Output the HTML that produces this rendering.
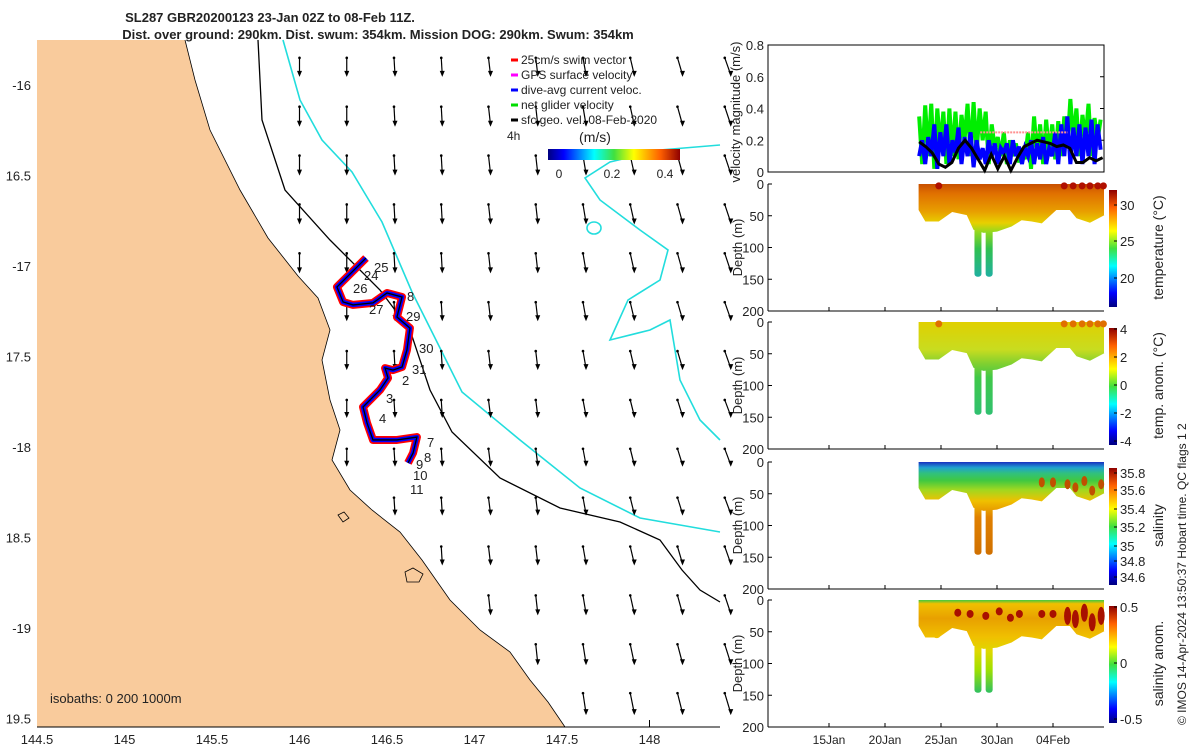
<!DOCTYPE html>
<html><head><meta charset="utf-8"><style>
body{margin:0;background:#fff}
svg text{font-family:"Liberation Sans","DejaVu Sans",sans-serif;fill:#222}
</style></head><body>
<svg id="s" width="1200" height="750" xmlns="http://www.w3.org/2000/svg">
<defs id="defs">
<linearGradient id="jet" x1="0" y1="1" x2="0" y2="0">
<stop offset="0" stop-color="#00007f"/><stop offset="0.12" stop-color="#0000ff"/><stop offset="0.35" stop-color="#00ffff"/><stop offset="0.5" stop-color="#40e040"/><stop offset="0.65" stop-color="#ffff00"/><stop offset="0.85" stop-color="#ff6000"/><stop offset="1" stop-color="#8f0000"/></linearGradient>
<linearGradient id="jeth" x1="0" y1="0" x2="1" y2="0"><stop offset="0" stop-color="#00007f"/><stop offset="0.12" stop-color="#0000ff"/><stop offset="0.35" stop-color="#00ffff"/><stop offset="0.5" stop-color="#40e040"/><stop offset="0.65" stop-color="#ffff00"/><stop offset="0.85" stop-color="#ff6000"/><stop offset="1" stop-color="#8f0000"/></linearGradient>
</defs>
<g id="map"></g>
<g id="right"></g>
<text x="1186" y="725" font-size="12" transform="rotate(-90 1186 725)">© IMOS 14-Apr-2024 13:50:37 Hobart time. QC flags 1  2</text>
</svg>
<script>
// ---- map data ----
const trackLon=[146.380,146.214,146.249,146.306,146.420,146.500,146.586,146.557,146.631,146.614,146.586,146.534,146.489,146.506,146.460,146.363,146.386,146.420,146.557,146.671,146.649,146.620];
const trackLat=[-16.956,-17.116,-17.199,-17.215,-17.204,-17.149,-17.171,-17.282,-17.343,-17.464,-17.558,-17.575,-17.564,-17.619,-17.685,-17.779,-17.867,-17.961,-17.961,-17.945,-18.033,-18.088];
const lonTicks=[144.5,145,145.5,146,146.5,147,147.5,148];
const latTicks=[-16,-16.5,-17,-17.5,-18,-18.5,-19,-19.5];
const latLabels=["-16","16.5","-17","17.5","-18","18.5","-19","19.5"];
const arrowRowV=[0.17,0.18,0.18,0.18,0.18,0.17,0.17,0.16,0.16,0.16,0.17,0.18,0.19,0.2,0.2];
const arrowColU=[0.0,0.0,0.01,0.01,0.02,0.02,0.03,0.04,0.05,0.06];
const arrowLon0=146.0, arrowLat0=-15.85, arrowStep=0.27;
// ---- time series data ----
const velDays0=23.05, velStep=0.27;
const greenVel=[0.35,0.05,0.42,0.1,0.43,0.02,0.4,0.15,0.38,0.05,0.4,0.1,0.38,0.08,0.36,0.2,0.43,0.1,0.44,0.12,0.4,0.2,0.38,0.05,0.3,0.15,0.22,0.1,0.25,0.05,0.2,0.1,0.18,0.06,0.15,0.08,0.25,0.02,0.35,0.1,0.3,0.05,0.33,0.1,0.3,0.08,0.32,0.1,0.35,0.15,0.46,0.2,0.4,0.1,0.36,0.2,0.43,0.1,0.34,0.2,0.33];
const blueVel=[0.1,0.2,0.05,0.22,0.1,0.3,0.02,0.25,0.1,0.3,0.05,0.2,0.12,0.28,0.05,0.22,0.1,0.25,0.03,0.2,0.08,0.15,0.05,0.2,0.1,0.18,0.05,0.15,0.12,0.18,0.05,0.2,0.1,0.16,0.05,0.15,0.1,0.2,0.05,0.18,0.08,0.22,0.05,0.15,0.1,0.25,0.05,0.3,0.1,0.35,0.05,0.28,0.1,0.3,0.05,0.28,0.1,0.33,0.05,0.3,0.14];
const blackVel=[0.19,0.16,0.12,0.05,0.03,0.06,0.15,0.2,0.15,0.08,0.01,0.11,0.02,0.10,0.01,0.09,0.16,0.18,0.2,0.19,0.18,0.16,0.17,0.15,0.06,0.06,0.09,0.07,0.09];
const blackDays0=23.05, blackStep=0.585;
const bottomDays=[23.0,23.6,24.8,26.0,27.3,27.9,28.8,30.0,31.3,32.2,33.1,34.0,35.3,36.5,37.1,38.3,39.6];
const bottomDepth=[41,59,59,44,49,72,77,75,67,57,59,62,41,41,54,61,49];
const spikeDays=[28.3,29.3];
const spikeDepth=[146,146];
const surfDotDays=[24.8,36.0,36.8,37.6,38.3,39.0,39.5];
const salBlobDays=[26.5,27.6,29.0,30.2,31.2,32.0,34.0,35.0,36.3,37.0,37.8,38.5,39.3];
const salBlobDepth=[20,22,25,18,28,22,22,22,25,30,20,35,25];
const timeTickDays=[15,20,25,30,35];
const timeTickLabels=["15Jan","20Jan","25Jan","30Jan","04Feb"];

const NS="http://www.w3.org/2000/svg";
function el(t,a,p){const e=document.createElementNS(NS,t);for(const k in a)e.setAttribute(k,a[k]);p.appendChild(e);return e;}
function txt(s,a,p){const e=el('text',a,p);e.textContent=s;return e;}
const map=document.getElementById('map'), R=document.getElementById('right'), defs=document.getElementById('defs');
const lx=l=>37+(l-144.5)*175, ly=l=>85+(-l-16)*181;

// land
const coast=[[185,40],[195,80],[210,130],[240,190],[268,238],[298,276],[318,298],[330,330],[322,360],[330,400],[340,430],[332,460],[350,490],[372,510],[400,532],[422,560],[450,600],[480,630],[510,652],[530,680],[548,702],[565,727]];
let lp="M37 40 "+coast.map(p=>"L"+p[0]+" "+p[1]).join(" ")+" L37 727 Z";
let land=el('path',{d:lp,fill:'#f9cb9c',stroke:'none'},map);

let cl=el('polyline',{points:coast.map(p=>p.join(',')).join(' '),fill:'none',stroke:'#000','stroke-width':0.8},map);

let isl=el('path',{d:"M405 572 l8 -4 l10 6 l-4 8 l-12 0 Z M338 515 l6 -3 l5 6 l-6 4 Z",fill:'#f9cb9c',stroke:'#000','stroke-width':0.8},map);

// isobaths
let iso=el('path',{d:"M258 40 L262 120 L285 190 L330 240 L380 290 L410 330 L430 390 L452 432 L500 478 L560 508 L620 522 L660 540 L682 570 L700 590 L720 602",fill:'none',stroke:'#000','stroke-width':1.3},map);

let c1=el('path',{d:"M283 40 L300 100 L322 140 L352 172 L382 222 L412 292 L432 332 L462 392 L520 440 L580 488 L640 518 L720 532",fill:'none',stroke:'#22dddd','stroke-width':1.6},map);

let c2=el('path',{d:"M720 145 L660 150 L610 162 L585 178 L600 200 L640 230 L668 250 L660 280 L628 300 L610 340 L650 330 L670 320 L680 380 L700 420 L720 440",fill:'none',stroke:'#22dddd','stroke-width':1.6},map);

let c3=el('ellipse',{cx:594,cy:228,rx:7,ry:6,fill:'none',stroke:'#22dddd','stroke-width':1.6},map);

// arrows
function coastX(y){for(let i=0;i<coast.length-1;i++){const a=coast[i],b=coast[i+1];if(y>=a[1]&&y<=b[1])return a[0]+(b[0]-a[0])*(y-a[1])/(b[1]-a[1]);}return 565;}
for(let i=0;i<arrowRowV.length;i++)for(let j=0;j<arrowColU.length;j++){
 const x=lx(arrowLon0+j*arrowStep), y=ly(arrowLat0-i*arrowStep);
 if(x<coastX(y)+8||x>725||y>727)continue;
 const dx=arrowColU[j]*100, dy=arrowRowV[i]*100;
 const g=el('g',{},map);
 
 
 el('line',{x1:x,y1:y,x2:x+dx,y2:y+dy,stroke:'#000','stroke-width':1.2},g);
 el('path',{d:`M${x+dx} ${y+dy+2} l-2.5 -6 l5 0 Z`,fill:'#000'},g);
 el('circle',{cx:x,cy:y,r:1.3,fill:'#000'},g);
}
// track
let pts=trackLon.map((l,i)=>lx(l)+","+ly(trackLat[i])).join(" ");
let tr=el('polyline',{points:pts,fill:'none',stroke:'#ff0000','stroke-width':8,'stroke-linejoin':'round'},map);

let tb=el('polyline',{points:pts,fill:'none',stroke:'#0000ff','stroke-width':4.5,'stroke-linejoin':'round'},map);

let tk=el('polyline',{points:pts,fill:'none',stroke:'#000','stroke-width':1.3},map);

[["25",374,272],["24",364,280],["26",353,293],["27",369,314],["8",407,301],["29",406,321],["30",419,353],["31",412,374],["2",402,385],["3",386,403],["4",379,423],["7",427,447],["8",424,462],["9",416,469],["10",413,480],["11",410,494]].forEach(d=>{const t=txt(d[0],{x:d[1],y:d[2],'font-size':13},map);});
// axes ticks
lonTicks.forEach(l=>{const t=txt(String(l),{x:lx(l),y:744,'font-size':13,'text-anchor':'middle'},map);});
latTicks.forEach((l,i)=>{const t=txt(latLabels[i],{x:31,y:ly(l)+5,'font-size':13,'text-anchor':'end'},map);});
el('line',{x1:37,y1:727,x2:720,y2:727,stroke:'#000'},map);
el('line',{x1:lx(148),y1:727,x2:lx(148),y2:720,stroke:'#000'},map);
let iso2=txt("isobaths: 0   200  1000m",{x:50,y:703,'font-size':13,'xml:space':'preserve'},map);

let t1=txt("SL287 GBR20200123 23-Jan 02Z to 08-Feb 11Z.",{x:270,y:22,'font-size':13,'font-weight':'bold','text-anchor':'middle'},map);

let t2=txt("Dist. over ground: 290km. Dist. swum: 354km. Mission DOG: 290km. Swum: 354km",{x:378,y:39,'font-size':13,'font-weight':'bold','text-anchor':'middle'},map);

// legend
const leg=el('g',{},map);
[["#ff0000","25cm/s swim vector",64],["#ff00ff","GPS surface velocity",79],["#0000ff","dive-avg current veloc.",94],["#00dd00","net glider velocity",109],["#000","sfc geo. vel. 08-Feb-2020",124]].forEach(d=>{
 const g=el('g',{},leg);
 el('line',{x1:511,y1:d[2]-4,x2:518,y2:d[2]-4,stroke:d[0],'stroke-width':3},g);
 txt(d[1],{x:521,y:d[2],'font-size':12},g);});
txt("4h",{x:507,y:140,'font-size':12},leg);
txt("(m/s)",{x:595,y:142,'font-size':14,'text-anchor':'middle'},leg);
let cb=el('rect',{x:548,y:149,width:132,height:11,fill:'url(#jeth)'},map);

[["0",559],["0.2",612],["0.4",665]].forEach(d=>{txt(d[0],{x:d[1],y:178,'font-size':12,'text-anchor':'middle'},map);});

// ---- right panels ----
const tx=d=>829+(d-15)*11.2;
const X0=768,X1=1104;
const vy=v=>172-v/0.8*127;
el('rect',{x:X0,y:45,width:X1-X0,height:127,fill:'none',stroke:'#000'},R);
[0,0.2,0.4,0.6,0.8].forEach(v=>{txt(String(v),{x:764,y:vy(v)+5,'font-size':13,'text-anchor':'end'},R);el('line',{x1:X1,y1:vy(v),x2:X1-4,y2:vy(v),stroke:'#000'},R);});
let vl=txt("velocity magnitude (m/s)",{x:740,y:112,'font-size':13,'text-anchor':'middle',transform:'rotate(-90 740 112)'},R);

function series(arr,d0,st,col,w,name){const p=el('polyline',{points:arr.map((v,i)=>tx(d0+i*st)+","+vy(v)).join(" "),fill:'none',stroke:col,'stroke-width':w},R);}
series(greenVel,velDays0,velStep,'#00ee00',4,'net-glider-velocity-line');
series(blueVel,velDays0,velStep,'#0000ff',4,'dive-avg-current-line');
el('line',{x1:tx(28.5),y1:vy(0.25),x2:tx(36.3),y2:vy(0.25),stroke:'#ff9090','stroke-width':2,'stroke-dasharray':'2 1'},R);
series(blackVel,blackDays0,blackStep,'#000',3,'surface-velocity-line');
// depth panels
const grads=[
 [[0,'#c85000'],[0.1,'#e07000'],[0.3,'#e8a000'],[0.42,'#e8d000'],[0.52,'#90d820'],[0.7,'#30c050'],[1,'#20b0a0']],
 [[0,'#e0d000'],[0.3,'#c8dc20'],[0.45,'#80d030'],[0.6,'#40c848'],[1,'#30c070']],
 [[0,'#1830c0'],[0.06,'#20a0d0'],[0.12,'#30c080'],[0.2,'#40c840'],[0.3,'#a0d820'],[0.42,'#f0c000'],[0.6,'#e08000'],[1,'#d07000']],
 [[0,'#40c840'],[0.04,'#f0c000'],[0.2,'#e8a000'],[0.4,'#f0c000'],[0.55,'#e0d800'],[0.75,'#a0e000'],[1,'#30c060']]];
const panels=[[184,'temperature (°C)',[["30",205],["25",241],["20",278]]],[322,'temp. anom. (°C)',[["4",329],["2",357],["0",385],["-2",413],["-4",441]]],[462,'salinity',[["35.8",473],["35.6",490],["35.4",509],["35.2",527],["35",546],["34.8",561],["34.6",577]]],[600,'salinity anom.',[["0.5",607],["0",663],["-0.5",719]]]];
panels.forEach((P,k)=>{
 const top=P[0],H=127,dy=d=>top+d/200*H;
 const lg=el('linearGradient',{id:'gp'+k,gradientUnits:'userSpaceOnUse',x1:0,y1:top,x2:0,y2:dy(146)},defs);
 grads[k].forEach(s=>el('stop',{offset:s[0],'stop-color':s[1]},lg));
 const g=el('g',{},R);
 let d="M"+tx(bottomDays[0])+" "+dy(0)+" "+bottomDays.map((t,i)=>"L"+tx(t)+" "+dy(bottomDepth[i])).join(" ")+" L"+X1+" "+dy(bottomDepth[bottomDepth.length-1])+" L"+X1+" "+dy(0)+" Z";
 el('path',{d:d,fill:'url(#gp'+k+')'},g);
 spikeDays.forEach((s,i)=>{el('rect',{x:tx(s)-3.5,y:dy(60),width:7,height:dy(spikeDepth[i])-dy(60),rx:3,fill:'url(#gp'+k+')'},g);});
 if(k==3)el('rect',{x:tx(24.3),y:dy(20),width:7,height:dy(60)-dy(20),rx:3,fill:'url(#gp3)'},g);
 if(k==0||k==1)surfDotDays.forEach(s=>el('circle',{cx:tx(s),cy:dy(3),r:3.5,fill:k==0?'#b01000':'#e07000'},g));
 if(k==2)salBlobDays.forEach((s,i)=>{if(s>33)el('ellipse',{cx:tx(s),cy:dy(salBlobDepth[i]+10),rx:3,ry:5,fill:'#c05000'},g);});
 if(k==3)salBlobDays.forEach((s,i)=>el('ellipse',{cx:tx(s),cy:dy(salBlobDepth[i]),rx:3.5,ry:s>36?9:4,fill:'#a81000'},g));
 el('line',{x1:X0,y1:top,x2:X0,y2:top+H,stroke:'#000'},g);
 el('line',{x1:X0,y1:top+H,x2:X1,y2:top+H,stroke:'#000'},g);
 [0,50,100,150,200].forEach(v=>{txt(String(v),{x:764,y:dy(v)+5,'font-size':13,'text-anchor':'end'},g);el('line',{x1:X0,y1:dy(v),x2:X0+4,y2:dy(v),stroke:'#000'},g);});
 txt("Depth (m)",{x:742,y:top+H/2,'font-size':13,'text-anchor':'middle',transform:`rotate(-90 742 ${top+H/2})`},g);
 timeTickDays.forEach(t=>el('line',{x1:tx(t),y1:top+H,x2:tx(t),y2:top+H-4,stroke:'#000'},g));
 const cbar=el('rect',{x:1109,y:top+6,width:8,height:H-10,fill:'url(#jet)'},g);
 
 P[2].forEach(l=>{txt(l[0],{x:1120,y:l[1]+5,'font-size':13},g);el('line',{x1:1117,y1:l[1],x2:1114,y2:l[1],stroke:'#000'},g);});
 const lxp=1163;
 txt(P[1],{x:lxp,y:top+H/2,'font-size':14,'text-anchor':'middle',transform:`rotate(-90 ${lxp} ${top+H/2})`},g);
});
timeTickDays.forEach((t,i)=>{const e=txt(timeTickLabels[i],{x:tx(t),y:744,'font-size':12,'text-anchor':'middle'},R);});
</script>
</body></html>
